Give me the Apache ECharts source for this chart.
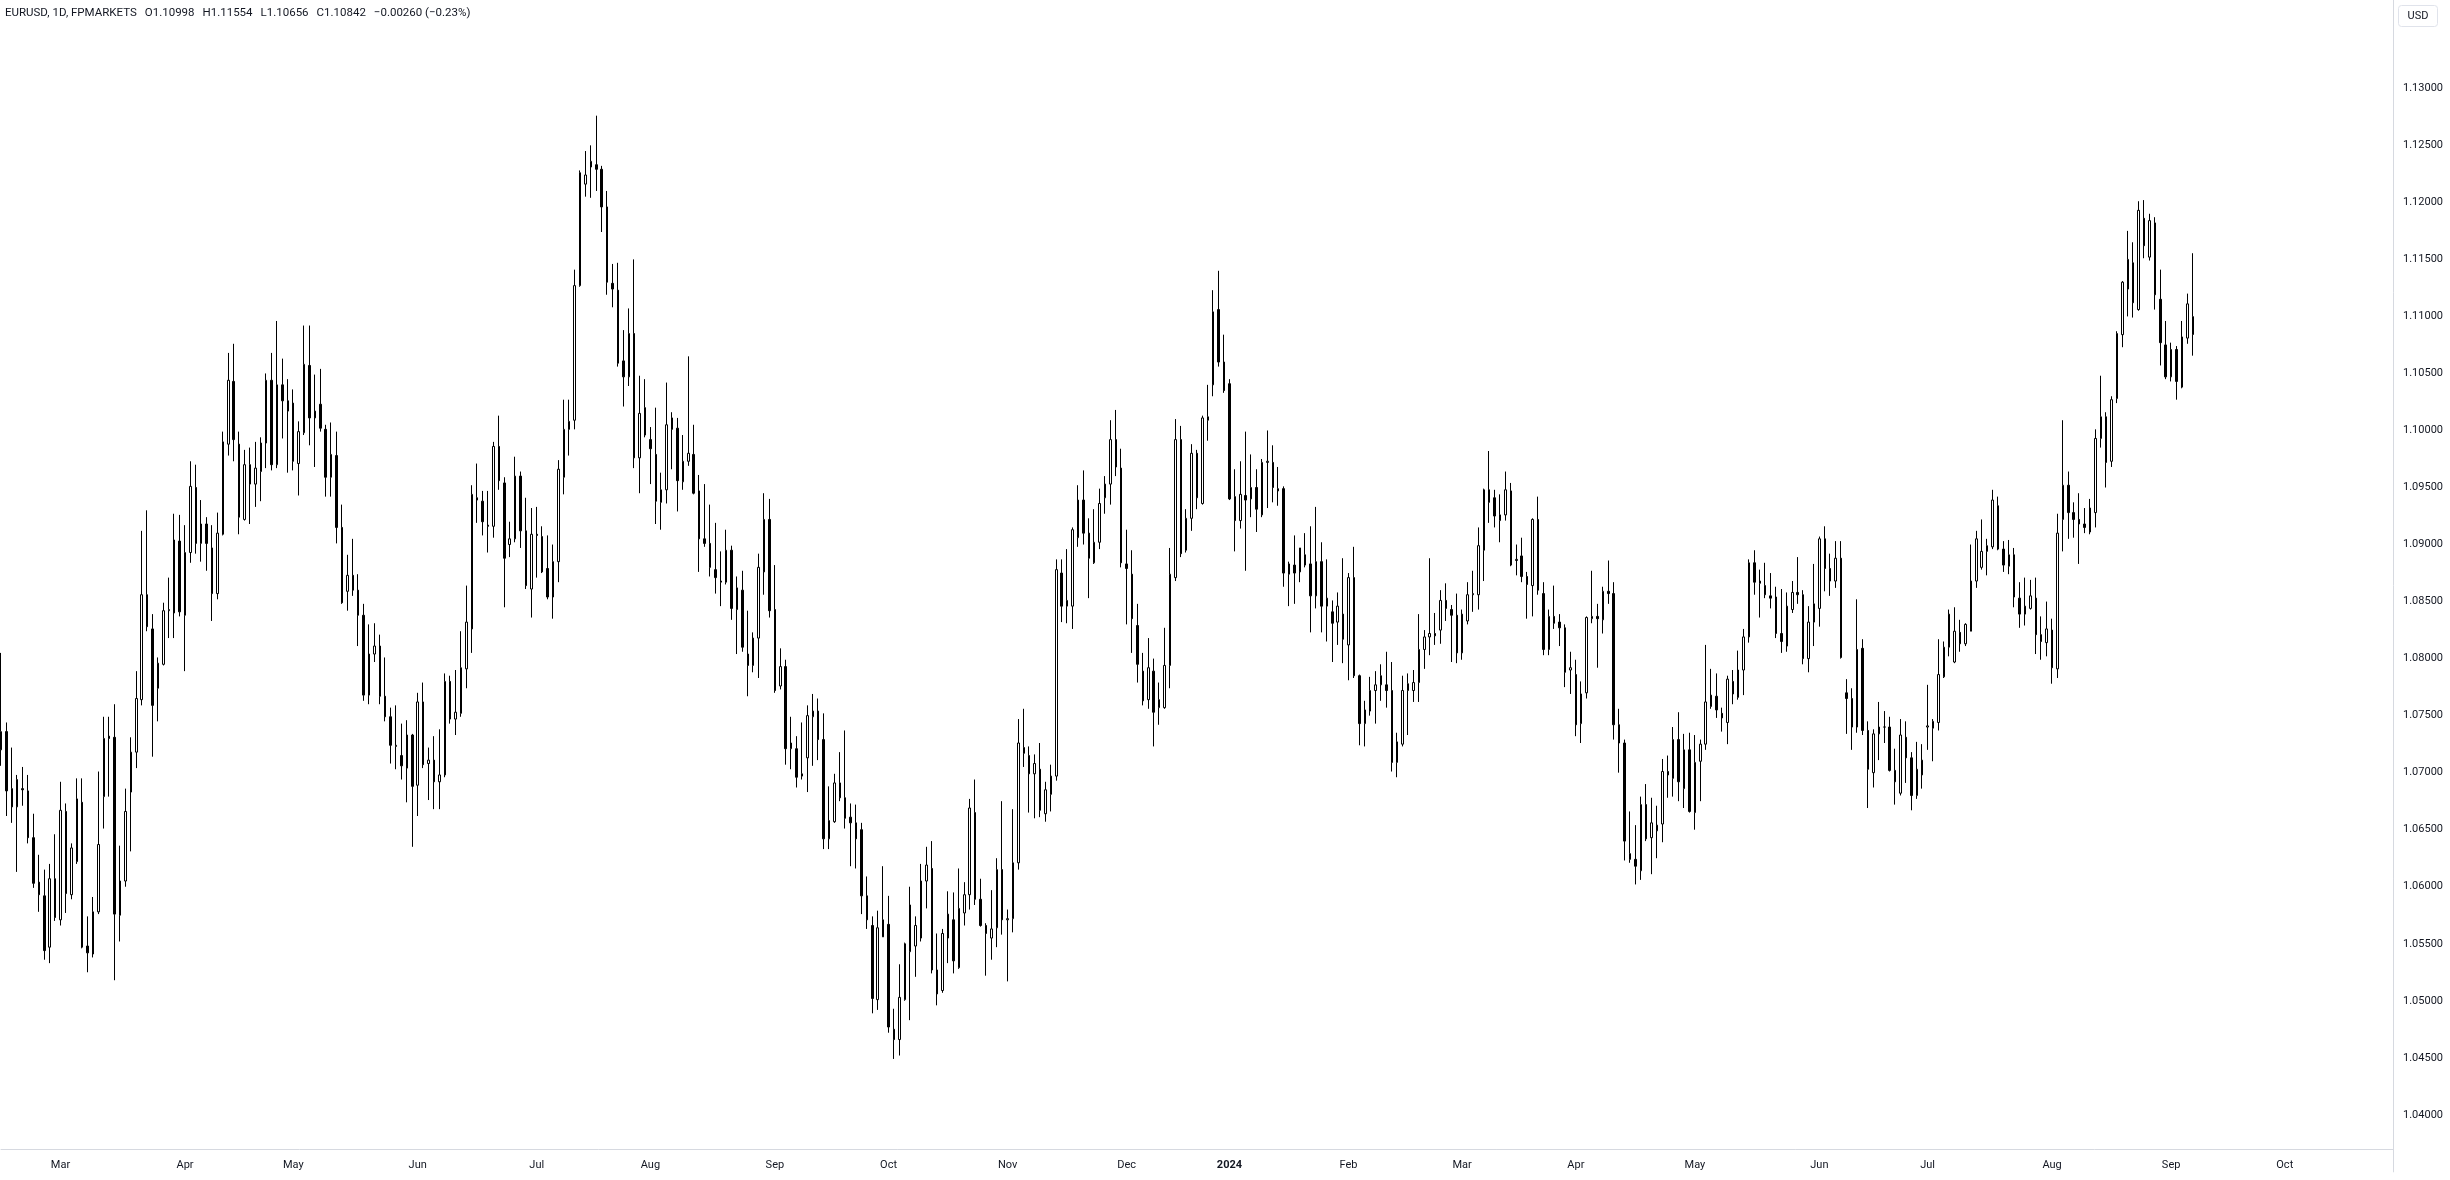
<!DOCTYPE html>
<html>
<head>
<meta charset="utf-8">
<script src="https://cdn.jsdelivr.net/npm/echarts/dist/echarts.min.js"></script>
<style>
html,body{margin:0;padding:0;background:#ffffff;}
#chart{width:2450px;height:1180px;}
</style>
</head>
<body>
<div id="chart"></div>
<script>
// ---------- categories (trading days, weekdays without the broker's holidays) ----------
const FIRST_DAY = [2023, 1, 14];             // 14 Feb 2023 (month is 0-based)
const SKIPPED_DAYS = ['2023-12-25', '2023-12-26', '2024-01-01'];
const SLOT_COUNT = 443;                       // bars + empty space on the right
const MONTH_NAMES = ['Jan','Feb','Mar','Apr','May','Jun','Jul','Aug','Sep','Oct','Nov','Dec'];

// ---------- price scale ticks ----------
const PRICE_MIN = 1.035, PRICE_MAX = 1.14, PRICE_STEP = 0.005;
const LABEL_LOW = 1.04, LABEL_HIGH = 1.13;

// ---------- header texts ----------
const HEADER_PARTS = ['EURUSD, 1D, FPMARKETS', 'O1.10998', 'H1.11554', 'L1.10656', 'C1.10842', '\u22120.00260 (\u22120.23%)'];
const CURRENCY_TEXT = 'USD';

// ---------- series values (EURUSD daily) ----------
const opens = [
1.0720,1.0736,1.0686,1.0670,1.0686,1.0684,1.0643,1.0604,1.0592,1.0547,
1.0607,1.0571,1.0666,1.0593,1.0622,1.0674,1.0548,1.0541,1.0578,1.0679,
1.0732,1.0731,1.0575,1.0605,1.0683,1.0718,1.0764,1.0856,1.0826,1.0774,
1.0795,1.0842,1.0840,1.0903,1.0838,1.0893,1.0950,1.0901,1.0918,1.0897,
1.0857,1.0909,1.0988,1.1043,1.0988,1.0922,1.0970,1.0953,1.0964,1.0989,
1.1044,1.0970,1.1040,1.1026,1.1024,1.0971,1.0998,1.1057,1.1011,1.1023,
1.1001,1.0959,1.0978,1.0915,1.0859,1.0873,1.0860,1.0838,1.0768,1.0804,
1.0811,1.0767,1.0749,1.0723,1.0715,1.0704,1.0733,1.0689,1.0762,1.0708,
1.0711,1.0692,1.0698,1.0780,1.0747,1.0752,1.0791,1.0826,1.0941,1.0938,
1.0917,1.0916,1.0986,1.0954,1.0900,1.0905,1.0960,1.0912,1.0861,1.0909,
1.0907,1.0879,1.0854,1.0885,1.0959,1.1001,1.1009,1.1127,1.1216,1.1231,
1.1233,1.1229,1.1196,1.1129,1.1123,1.1061,1.1047,1.1085,1.0976,1.1020,
1.0992,1.0979,1.0937,1.0948,1.1011,1.1002,1.0955,1.0973,1.0979,1.0947,
1.0905,1.0901,1.0878,1.0867,1.0867,1.0895,1.0843,1.0860,1.0804,1.0794,
1.0818,1.0876,1.0922,1.0843,1.0776,1.0793,1.0721,1.0721,1.0697,1.0713,
1.0749,1.0754,1.0729,1.0642,1.0657,1.0691,1.0678,1.0661,1.0656,1.0650,
1.0592,1.0566,1.0501,1.0556,1.0567,1.0475,1.0466,1.0501,1.0543,1.0548,
1.0555,1.0605,1.0616,1.0527,1.0509,1.0555,1.0571,1.0529,1.0577,1.0593,
1.0665,1.0589,1.0566,1.0555,1.0564,1.0615,1.0571,1.0572,1.0621,1.0722,
1.0715,1.0699,1.0703,1.0664,1.0681,1.0697,1.0875,1.0846,1.0846,1.0906,
1.0939,1.0910,1.0884,1.0902,1.0941,1.0953,1.0992,1.0967,1.0883,1.0874,
1.0829,1.0789,1.0764,1.0789,1.0757,1.0757,1.0794,1.0871,1.0992,1.0895,
1.0923,1.0980,1.0936,1.1009,1.1040,1.1106,1.1060,1.1041,1.0942,1.0921,
1.0943,1.0940,1.0950,1.0926,1.0972,1.0972,1.0947,1.0949,1.0874,1.0882,
1.0876,1.0891,1.0883,1.0855,1.0885,1.0846,1.0841,1.0832,1.0839,1.0812,
1.0871,1.0785,1.0743,1.0754,1.0772,1.0777,1.0777,1.0772,1.0709,1.0725,
1.0772,1.0772,1.0779,1.0808,1.0819,1.0822,1.0825,1.0851,1.0843,1.0838,
1.0805,1.0833,1.0856,1.0856,1.0895,1.0948,1.0941,1.0921,1.0926,1.0947,
1.0886,1.0890,1.0872,1.0864,1.0922,1.0857,1.0808,1.0837,1.0832,1.0827,
1.0790,1.0786,1.0743,1.0770,1.0835,1.0837,1.0834,1.0859,1.0857,1.0742,
1.0726,1.0629,1.0624,1.0614,1.0672,1.0643,1.0649,1.0655,1.0701,1.0695,
1.0729,1.0686,1.0720,1.0665,1.0710,1.0725,1.0758,1.0767,1.0752,1.0744,
1.0780,1.0766,1.0790,1.0819,1.0884,1.0866,1.0864,1.0855,1.0854,1.0822,
1.0811,1.0843,1.0858,1.0856,1.0800,1.0832,1.0844,1.0905,1.0879,1.0868,
1.0888,1.0770,1.0765,1.0740,1.0809,1.0737,1.0700,1.0734,1.0740,1.0740,
1.0702,1.0682,1.0731,1.0713,1.0680,1.0698,1.0740,1.0739,1.0744,1.0784,
1.0810,1.0797,1.0823,1.0813,1.0824,1.0868,1.0880,1.0894,1.0898,1.0934,
1.0896,1.0881,1.0891,1.0853,1.0839,1.0844,1.0853,1.0821,1.0814,1.0825,
1.0791,1.0922,1.0952,1.0928,1.0922,1.0918,1.0911,1.0928,1.0993,1.1012,
1.0973,1.1028,1.1084,1.1124,1.1147,1.1106,1.1186,1.1152,1.1182,1.1115,
1.1075,1.1047,1.1071,1.1038,1.1081,1.10998
];
const highs = [
1.0805,1.0744,1.0722,1.0698,1.0705,1.0698,1.0664,1.0628,1.0615,1.0620,
1.0646,1.0692,1.0673,1.0638,1.0695,1.0695,1.0574,1.0591,1.0701,1.0749,
1.0749,1.0760,1.0636,1.0686,1.0731,1.0789,1.0912,1.0930,1.0839,1.0801,
1.0849,1.0871,1.0927,1.0926,1.0917,1.0973,1.0970,1.0939,1.0924,1.0917,
1.0928,1.0999,1.1068,1.1076,1.0999,1.0983,1.0985,1.0990,1.0994,1.1050,
1.1068,1.1096,1.1063,1.1045,1.1036,1.1008,1.1092,1.1092,1.1049,1.1054,
1.1005,1.1007,1.0999,1.0935,1.0891,1.0905,1.0874,1.0848,1.0830,1.0831,
1.0821,1.0801,1.0757,1.0759,1.0743,1.0746,1.0734,1.0770,1.0779,1.0722,
1.0732,1.0738,1.0787,1.0785,1.0790,1.0824,1.0864,1.0952,1.0971,1.0947,
1.0947,1.0990,1.1013,1.0959,1.0920,1.0977,1.0964,1.0941,1.0932,1.0933,
1.0916,1.0908,1.0900,1.0974,1.1027,1.1027,1.1141,1.1228,1.1245,1.1250,
1.1276,1.1232,1.1210,1.1146,1.1147,1.1088,1.1107,1.1150,1.1048,1.1045,
1.1003,1.1020,1.0963,1.1042,1.1016,1.1011,1.0996,1.1065,1.1005,1.0961,
1.0953,1.0935,1.0919,1.0894,1.0913,1.0899,1.0872,1.0877,1.0842,1.0823,
1.0892,1.0945,1.0940,1.0882,1.0809,1.0799,1.0749,1.0732,1.0744,1.0759,
1.0769,1.0765,1.0752,1.0688,1.0699,1.0718,1.0737,1.0673,1.0672,1.0656,
1.0609,1.0574,1.0579,1.0618,1.0592,1.0493,1.0532,1.0551,1.0600,1.0574,
1.0620,1.0635,1.0640,1.0559,1.0563,1.0596,1.0595,1.0616,1.0604,1.0677,
1.0694,1.0607,1.0568,1.0597,1.0625,1.0675,1.0580,1.0668,1.0747,1.0756,
1.0723,1.0716,1.0726,1.0692,1.0707,1.0887,1.0887,1.0896,1.0915,1.0952,
1.0965,1.0923,1.0931,1.0949,1.0960,1.1009,1.1018,1.0984,1.0913,1.0895,
1.0848,1.0805,1.0818,1.0800,1.0779,1.0827,1.0897,1.1010,1.1004,1.0931,
1.0988,1.0983,1.1013,1.1040,1.1123,1.1140,1.1084,1.1045,1.0966,1.0973,
1.0999,1.0979,1.0966,1.0975,1.1000,1.0987,1.0968,1.0951,1.0885,1.0908,
1.0897,1.0910,1.0916,1.0933,1.0902,1.0887,1.0851,1.0858,1.0888,1.0875,
1.0898,1.0786,1.0763,1.0784,1.0789,1.0795,1.0806,1.0797,1.0735,1.0785,
1.0787,1.0790,1.0839,1.0825,1.0888,1.0840,1.0860,1.0866,1.0847,1.0857,
1.0843,1.0867,1.0877,1.0915,1.0949,1.0982,1.0948,1.0944,1.0964,1.0954,
1.0900,1.0906,1.0876,1.0923,1.0942,1.0867,1.0843,1.0864,1.0839,1.0830,
1.0806,1.0799,1.0780,1.0837,1.0877,1.0848,1.0863,1.0886,1.0867,1.0756,
1.0729,1.0666,1.0654,1.0679,1.0690,1.0678,1.0671,1.0712,1.0715,1.0740,
1.0753,1.0734,1.0735,1.0733,1.0729,1.0812,1.0791,1.0787,1.0757,1.0785,
1.0790,1.0807,1.0826,1.0887,1.0895,1.0878,1.0884,1.0875,1.0863,1.0861,
1.0858,1.0868,1.0889,1.0860,1.0846,1.0883,1.0907,1.0916,1.0892,1.0903,
1.0903,1.0782,1.0774,1.0852,1.0817,1.0745,1.0738,1.0762,1.0754,1.0749,
1.0721,1.0747,1.0745,1.0718,1.0727,1.0725,1.0777,1.0747,1.0817,1.0815,
1.0843,1.0845,1.0834,1.0831,1.0900,1.0912,1.0922,1.0905,1.0948,1.0942,
1.0903,1.0904,1.0897,1.0867,1.0871,1.0869,1.0871,1.0837,1.0850,1.0835,
1.0927,1.1009,1.0964,1.0937,1.0945,1.0932,1.0940,1.1001,1.1048,1.1016,
1.1030,1.1087,1.1131,1.1175,1.1165,1.1201,1.1202,1.1190,1.1187,1.1141,
1.1096,1.1077,1.1074,1.1096,1.1120,1.11554
];
const lows = [
1.0706,1.0662,1.0656,1.0613,1.0671,1.0638,1.0599,1.0578,1.0536,1.0533,
1.0570,1.0566,1.0577,1.0589,1.0620,1.0546,1.0525,1.0538,1.0576,1.0651,
1.0679,1.0518,1.0552,1.0600,1.0631,1.0704,1.0759,1.0824,1.0714,1.0745,
1.0794,1.0818,1.0818,1.0837,1.0789,1.0884,1.0892,1.0885,1.0877,1.0833,
1.0852,1.0908,1.0978,1.0973,1.0909,1.0921,1.0918,1.0933,1.0938,1.0967,
1.0965,1.0967,1.0993,1.0963,1.0965,1.0943,1.0996,1.0987,1.0968,1.0999,
1.0942,1.0942,1.0901,1.0848,1.0842,1.0855,1.0811,1.0763,1.0760,1.0797,
1.0760,1.0745,1.0708,1.0703,1.0694,1.0674,1.0635,1.0662,1.0704,1.0676,
1.0668,1.0668,1.0696,1.0743,1.0733,1.0749,1.0774,1.0805,1.0919,1.0908,
1.0893,1.0906,1.0948,1.0845,1.0889,1.0902,1.0897,1.0861,1.0836,1.0871,
1.0875,1.0852,1.0835,1.0867,1.0944,1.0978,1.1001,1.1126,1.1205,1.1204,
1.1210,1.1174,1.1119,1.1108,1.1056,1.1021,1.1039,1.0967,1.0945,1.0994,
1.0953,1.0918,1.0913,1.0936,1.0966,1.0929,1.0948,1.0969,1.0944,1.0876,
1.0898,1.0872,1.0857,1.0846,1.0865,1.0834,1.0804,1.0806,1.0767,1.0788,
1.0783,1.0856,1.0836,1.0770,1.0773,1.0707,1.0703,1.0687,1.0694,1.0683,
1.0706,1.0711,1.0633,1.0633,1.0656,1.0675,1.0651,1.0618,1.0616,1.0576,
1.0563,1.0489,1.0492,1.0556,1.0472,1.0449,1.0452,1.0500,1.0483,1.0521,
1.0552,1.0581,1.0524,1.0496,1.0507,1.0533,1.0524,1.0528,1.0566,1.0580,
1.0584,1.0565,1.0522,1.0536,1.0547,1.0558,1.0517,1.0560,1.0615,1.0705,
1.0665,1.0660,1.0661,1.0657,1.0666,1.0693,1.0832,1.0831,1.0826,1.0898,
1.0900,1.0853,1.0883,1.0896,1.0927,1.0935,1.0960,1.0880,1.0830,1.0805,
1.0779,1.0759,1.0756,1.0723,1.0742,1.0756,1.0774,1.0868,1.0889,1.0893,
1.0912,1.0931,1.0935,1.0991,1.1030,1.1056,1.1033,1.0939,1.0894,1.0914,
1.0877,1.0924,1.0911,1.0924,1.0932,1.0937,1.0934,1.0863,1.0846,1.0848,
1.0867,1.0880,1.0823,1.0844,1.0823,1.0815,1.0797,1.0812,1.0796,1.0781,
1.0783,1.0724,1.0723,1.0750,1.0743,1.0763,1.0757,1.0701,1.0696,1.0723,
1.0733,1.0762,1.0762,1.0791,1.0803,1.0812,1.0813,1.0833,1.0797,1.0796,
1.0799,1.0830,1.0841,1.0843,1.0868,1.0919,1.0915,1.0902,1.0921,1.0881,
1.0873,1.0867,1.0835,1.0837,1.0856,1.0803,1.0803,1.0826,1.0811,1.0775,
1.0769,1.0732,1.0726,1.0765,1.0831,1.0792,1.0822,1.0848,1.0729,1.0700,
1.0623,1.0621,1.0602,1.0606,1.0640,1.0611,1.0625,1.0639,1.0678,1.0679,
1.0675,1.0669,1.0665,1.0650,1.0675,1.0720,1.0756,1.0748,1.0736,1.0725,
1.0760,1.0764,1.0768,1.0814,1.0856,1.0836,1.0853,1.0844,1.0818,1.0805,
1.0806,1.0840,1.0848,1.0795,1.0788,1.0811,1.0828,1.0859,1.0855,1.0862,
1.0800,1.0734,1.0720,1.0735,1.0733,1.0669,1.0687,1.0711,1.0726,1.0701,
1.0672,1.0680,1.0691,1.0667,1.0677,1.0686,1.0720,1.0710,1.0737,1.0783,
1.0802,1.0796,1.0806,1.0811,1.0824,1.0862,1.0878,1.0873,1.0896,1.0895,
1.0876,1.0874,1.0845,1.0827,1.0829,1.0843,1.0804,1.0799,1.0802,1.0778,
1.0783,1.0894,1.0905,1.0906,1.0883,1.0910,1.0909,1.0915,1.0985,1.0950,
1.0968,1.1024,1.1073,1.1100,1.1099,1.1105,1.1151,1.1149,1.1106,1.1057,
1.1045,1.1043,1.1027,1.1037,1.1076,1.10656
];
const closes = [
1.0736,1.0684,1.0670,1.0694,1.0685,1.0643,1.0603,1.0593,1.0544,1.0607,
1.0573,1.0667,1.0594,1.0634,1.0677,1.0547,1.0542,1.0578,1.0637,1.0730,
1.0730,1.0576,1.0605,1.0666,1.0718,1.0765,1.0856,1.0828,1.0759,1.0796,
1.0842,1.0843,1.0904,1.0841,1.0893,1.0951,1.0901,1.0918,1.0901,1.0857,
1.0910,1.0990,1.1044,1.0992,1.0924,1.0970,1.0953,1.0967,1.0989,1.1044,
1.0970,1.1040,1.1026,1.1017,1.0973,1.0999,1.1058,1.1011,1.1017,1.1002,
1.0959,1.0979,1.0915,1.0849,1.0873,1.0860,1.0838,1.0768,1.0804,1.0811,
1.0767,1.0749,1.0724,1.0724,1.0706,1.0733,1.0688,1.0762,1.0707,1.0711,
1.0692,1.0698,1.0780,1.0747,1.0753,1.0792,1.0832,1.0944,1.0939,1.0920,
1.0916,1.0986,1.0956,1.0888,1.0905,1.0960,1.0912,1.0864,1.0909,1.0908,
1.0876,1.0854,1.0885,1.0966,1.1001,1.1008,1.1127,1.1226,1.1224,1.1236,
1.1229,1.1196,1.1130,1.1124,1.1059,1.1047,1.1085,1.0976,1.1015,1.0996,
1.0984,1.0938,1.0948,1.1005,1.1001,1.0956,1.0973,1.0980,1.0945,1.0905,
1.0901,1.0880,1.0871,1.0868,1.0895,1.0844,1.0862,1.0810,1.0794,1.0818,
1.0880,1.0922,1.0842,1.0772,1.0793,1.0721,1.0726,1.0696,1.0699,1.0750,
1.0754,1.0729,1.0642,1.0658,1.0691,1.0678,1.0660,1.0656,1.0642,1.0592,
1.0571,1.0502,1.0564,1.0571,1.0477,1.0466,1.0503,1.0550,1.0584,1.0566,
1.0605,1.0619,1.0527,1.0506,1.0559,1.0576,1.0535,1.0581,1.0593,1.0669,
1.0589,1.0566,1.0559,1.0563,1.0615,1.0571,1.0572,1.0621,1.0726,1.0717,
1.0699,1.0708,1.0667,1.0685,1.0697,1.0878,1.0846,1.0851,1.0913,1.0939,
1.0910,1.0888,1.0902,1.0936,1.0953,1.0992,1.0968,1.0884,1.0879,1.0835,
1.0795,1.0763,1.0792,1.0753,1.0764,1.0794,1.0874,1.0992,1.0892,1.0923,
1.0980,1.0941,1.1011,1.1012,1.1104,1.1060,1.1035,1.0940,1.0921,1.0944,
1.0939,1.0950,1.0931,1.0972,1.0973,1.0950,1.0949,1.0875,1.0883,1.0875,
1.0897,1.0882,1.0855,1.0885,1.0846,1.0853,1.0831,1.0846,1.0817,1.0871,
1.0785,1.0743,1.0755,1.0772,1.0777,1.0785,1.0772,1.0709,1.0727,1.0772,
1.0778,1.0779,1.0808,1.0819,1.0822,1.0820,1.0851,1.0844,1.0838,1.0805,
1.0839,1.0856,1.0857,1.0899,1.0948,1.0937,1.0925,1.0926,1.0948,1.0882,
1.0887,1.0872,1.0865,1.0922,1.0860,1.0808,1.0837,1.0831,1.0827,1.0788,
1.0792,1.0742,1.0769,1.0836,1.0837,1.0835,1.0859,1.0857,1.0742,1.0726,
1.0640,1.0624,1.0618,1.0672,1.0642,1.0656,1.0654,1.0701,1.0698,1.0729,
1.0692,1.0720,1.0666,1.0709,1.0725,1.0762,1.0768,1.0755,1.0748,1.0782,
1.0769,1.0790,1.0819,1.0884,1.0867,1.0868,1.0856,1.0853,1.0822,1.0815,
1.0846,1.0858,1.0856,1.0800,1.0832,1.0848,1.0905,1.0879,1.0868,1.0888,
1.0801,1.0765,1.0740,1.0808,1.0737,1.0703,1.0734,1.0740,1.0740,1.0702,
1.0692,1.0733,1.0713,1.0680,1.0703,1.0711,1.0741,1.0745,1.0786,1.0810,
1.0839,1.0824,1.0813,1.0830,1.0868,1.0905,1.0894,1.0899,1.0939,1.0896,
1.0882,1.0891,1.0854,1.0839,1.0846,1.0855,1.0821,1.0815,1.0826,1.0792,
1.0910,1.0952,1.0928,1.0922,1.0918,1.0915,1.0932,1.0993,1.1012,1.0972,
1.1027,1.1085,1.1130,1.1150,1.1112,1.1193,1.1162,1.1184,1.1119,1.1077,
1.1047,1.1071,1.1043,1.1082,1.1111,1.10842
];

// ---------- build categories ----------
const dates = [];
for (let t = Date.UTC(FIRST_DAY[0], FIRST_DAY[1], FIRST_DAY[2]); dates.length < SLOT_COUNT; t += 86400000) {
  const d = new Date(t);
  const wd = d.getUTCDay();
  if (wd === 0 || wd === 6) continue;
  const s = d.toISOString().slice(0, 10);
  if (SKIPPED_DAYS.indexOf(s) >= 0) continue;
  dates.push(s);
}
const candles = opens.map((o, i) => [o, closes[i], lows[i], highs[i]]);

// ---------- layout (pixels) ----------
const W = 2450, H = 1180;
const PLOT_LEFT = 1;
const PLOT_RIGHT = 2393;              // price-scale border
const Y_TOP_PRICE_PX = -25.76;        // where PRICE_MAX falls
const Y_BOTTOM_PRICE_PX = 1171.87;    // where PRICE_MIN falls
const TIME_AXIS_Y = 1149;

const FONT = 'Roboto, "Noto Sans", "Liberation Sans", sans-serif';
const HEADER_FONT = '11.5px ' + FONT;
const HEADER_GAP = 8;
const TEXT_COLOR = '#131722';
const LINE_COLOR = '#d6d9e0';

// header parts laid out one after another with a fixed gap
const measureCtx = document.createElement('canvas').getContext('2d');
measureCtx.font = HEADER_FONT;
let hx = 5;
const headerGraphics = HEADER_PARTS.map((t) => {
  const g = {type: 'text', x: hx, y: 7,
    style: {text: t, font: HEADER_FONT, fill: TEXT_COLOR, verticalAlign: 'top'}};
  hx += measureCtx.measureText(t).width + HEADER_GAP;
  return g;
});

const chart = echarts.init(document.getElementById('chart'), null, {renderer: 'canvas', width: W, height: H});
chart.setOption({
  animation: false,
  backgroundColor: '#ffffff',
  grid: {
    left: PLOT_LEFT,
    right: W - PLOT_RIGHT,
    top: Y_TOP_PRICE_PX,
    height: Y_BOTTOM_PRICE_PX - Y_TOP_PRICE_PX,
    containLabel: false,
    outerBoundsMode: 'none'
  },
  xAxis: {
    type: 'category',
    data: dates,
    boundaryGap: false,
    offset: -(Y_BOTTOM_PRICE_PX - TIME_AXIS_Y),
    axisLine: {show: true, lineStyle: {color: LINE_COLOR, width: 1}},
    axisTick: {show: false},
    splitLine: {show: false},
    axisLabel: {
      show: true,
      interval: function (idx, val) {
        return idx > 0 && val.slice(0, 7) !== dates[idx - 1].slice(0, 7);
      },
      formatter: function (val) {
        const m = +val.slice(5, 7);
        return m === 1 ? '{y|' + val.slice(0, 4) + '}' : MONTH_NAMES[m - 1];
      },
      rich: {y: {fontWeight: 'bold', fontSize: 11, fontFamily: FONT, color: TEXT_COLOR}},
      color: TEXT_COLOR,
      fontSize: 11,
      fontFamily: FONT,
      margin: 11,
      hideOverlap: false
    }
  },
  yAxis: {
    type: 'value',
    position: 'right',
    min: PRICE_MIN,
    max: PRICE_MAX,
    interval: PRICE_STEP,
    scale: true,
    axisLine: {show: true, lineStyle: {color: LINE_COLOR, width: 1}},
    axisTick: {show: false},
    splitLine: {show: false},
    axisLabel: {
      color: TEXT_COLOR,
      fontSize: 11,
      fontFamily: FONT,
      margin: 10,
      formatter: function (v) {
        return (v >= LABEL_LOW - 1e-6 && v <= LABEL_HIGH + 1e-6) ? v.toFixed(5) : '';
      }
    }
  },
  series: [{
    type: 'candlestick',
    data: candles,
    barWidth: 2,
    clip: true,
    itemStyle: {
      color: '#ffffff',
      color0: '#000000',
      borderColor: '#000000',
      borderColor0: '#000000',
      borderColorDoji: '#000000',
      borderWidth: 1
    }
  }],
  graphic: headerGraphics.concat([
    {
      type: 'rect', shape: {x: 2398.5, y: 5.5, width: 39, height: 21, r: 3},
      style: {fill: '#ffffff', stroke: '#e0e3eb', lineWidth: 1}
    },
    {
      type: 'text', x: 2418, y: 16,
      style: {text: CURRENCY_TEXT, font: '11px ' + FONT, fill: TEXT_COLOR, align: 'center', verticalAlign: 'middle'}
    }
  ])
});
</script>
</body>
</html>
